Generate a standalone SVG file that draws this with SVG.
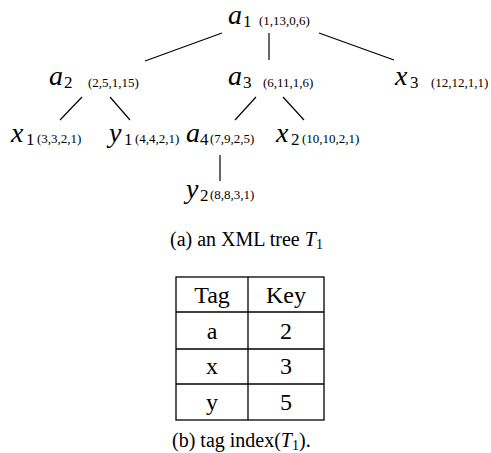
<svg xmlns="http://www.w3.org/2000/svg" width="491" height="453" viewBox="0 0 491 453">
  <style>
    .bg { fill: #ffffff; }
    .edge { stroke: #000; stroke-width: 1.2; fill: none; }
    .sym { font-family: "Liberation Serif", "DejaVu Serif", serif; font-style: italic; font-size: 28px; fill: #000; }
    .sub { font-family: "Liberation Serif", "DejaVu Serif", serif; font-size: 17px; fill: #000; }
    .lab { font-family: "Liberation Serif", "DejaVu Serif", serif; font-size: 13px; fill: #000; }
    .cap { font-family: "Liberation Serif", "DejaVu Serif", serif; font-size: 20px; fill: #000; }
    .capi { font-style: italic; }
    .capsub { font-size: 14px; }
    .cell { font-family: "Liberation Serif", "DejaVu Serif", serif; font-size: 24px; fill: #000; text-anchor: middle; }
    .grid { stroke: #000; stroke-width: 1.3; fill: none; }
  </style>
  <rect class="bg" x="0" y="0" width="491" height="453"/>

  <!-- tree edges -->
  <g id="edges">
    <line class="edge" x1="222" y1="33" x2="145" y2="61"/>
    <line class="edge" x1="269" y1="33" x2="269" y2="60"/>
    <line class="edge" x1="319" y1="33" x2="394" y2="60"/>
    <line class="edge" x1="82" y1="97" x2="60" y2="120"/>
    <line class="edge" x1="110" y1="97" x2="130" y2="120"/>
    <line class="edge" x1="256" y1="97" x2="235" y2="120"/>
    <line class="edge" x1="283" y1="97" x2="304" y2="120"/>
    <line class="edge" x1="220" y1="155" x2="220" y2="181"/>
  </g>

  <!-- tree nodes -->
  <g id="a1">
    <text class="sym" x="228" y="24">a</text>
    <text class="sub" x="243" y="27">1</text>
    <text class="lab" x="259" y="25">(1,13,0,6)</text>
  </g>
  <g id="a2">
    <text class="sym" x="49" y="85">a</text>
    <text class="sub" x="64" y="88">2</text>
    <text class="lab" x="88" y="87">(2,5,1,15)</text>
  </g>
  <g id="a3">
    <text class="sym" x="228" y="85">a</text>
    <text class="sub" x="243" y="88">3</text>
    <text class="lab" x="263" y="87">(6,11,1,6)</text>
  </g>
  <g id="x3">
    <text class="sym" x="395" y="85">x</text>
    <text class="sub" x="410" y="88">3</text>
    <text class="lab" x="431" y="87">(12,12,1,1)</text>
  </g>
  <g id="x1">
    <text class="sym" x="11" y="142">x</text>
    <text class="sub" x="26" y="145">1</text>
    <text class="lab" x="37" y="143">(3,3,2,1)</text>
  </g>
  <g id="y1">
    <text class="sym" x="109" y="142">y</text>
    <text class="sub" x="124" y="145">1</text>
    <text class="lab" x="135" y="143">(4,4,2,1)</text>
  </g>
  <g id="a4">
    <text class="sym" x="186" y="142">a</text>
    <text class="sub" x="200" y="145">4</text>
    <text class="lab" x="210" y="143">(7,9,2,5)</text>
  </g>
  <g id="x2">
    <text class="sym" x="276" y="142">x</text>
    <text class="sub" x="291" y="145">2</text>
    <text class="lab" x="302" y="143">(10,10,2,1)</text>
  </g>
  <g id="y2">
    <text class="sym" x="186" y="198">y</text>
    <text class="sub" x="200" y="201">2</text>
    <text class="lab" x="210" y="199">(8,8,3,1)</text>
  </g>

  <!-- caption (a) -->
  <g id="caption-a">
    <text class="cap" x="170" y="246">(a) an XML tree <tspan class="capi">T</tspan><tspan class="capsub" dy="3">1</tspan></text>
  </g>

  <!-- tag index table -->
  <g id="tag-index">
    <rect class="grid" x="176" y="277" width="148" height="143"/>
    <line class="grid" x1="248" y1="277" x2="248" y2="420"/>
    <line class="grid" x1="176" y1="312" x2="324" y2="312"/>
    <line class="grid" x1="176" y1="349" x2="324" y2="349"/>
    <line class="grid" x1="176" y1="384" x2="324" y2="384"/>
    <text class="cell" x="212" y="303">Tag</text>
    <text class="cell" x="286" y="303">Key</text>
    <text class="cell" x="212" y="339">a</text>
    <text class="cell" x="286" y="339">2</text>
    <text class="cell" x="212" y="374">x</text>
    <text class="cell" x="286" y="374">3</text>
    <text class="cell" x="212" y="410">y</text>
    <text class="cell" x="286" y="410">5</text>
  </g>

  <!-- caption (b) -->
  <g id="caption-b">
    <text class="cap" x="172" y="447">(b) tag index(<tspan class="capi">T</tspan><tspan class="capsub" dy="3">1</tspan><tspan dy="-3">).</tspan></text>
  </g>
</svg>
